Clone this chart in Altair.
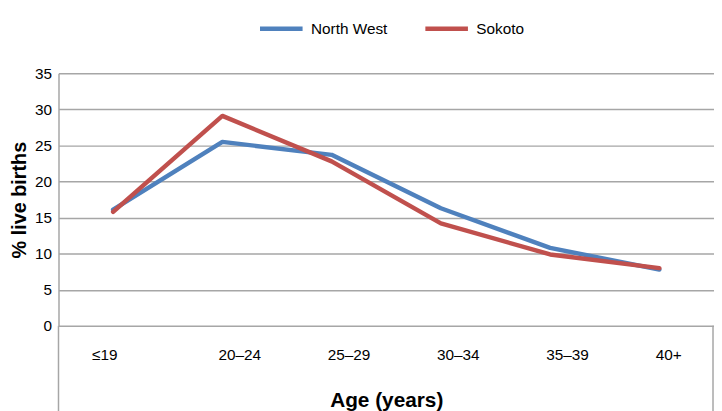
import altair as alt
import pandas as pd

ages = ["≤19", "20–24", "25–29", "30–34", "35–39", "40+"]
north_west = [16.1, 25.5, 23.7, 16.3, 10.8, 7.8]
sokoto = [15.8, 29.1, 22.8, 14.2, 9.9, 8.0]
series = ["North West", "Sokoto"]
colors = ["#4F81BD", "#C0504D"]

rows = []
for name, vals in zip(series, [north_west, sokoto]):
    for a, v in zip(ages, vals):
        rows.append({"age": a, "value": v, "series": name})
df = pd.DataFrame(rows)

W, H = 662, 255
FONT = "Liberation Sans"
GRID = "#A6A6A6"

label_offset = {
    "condition": [
        {"test": "datum.value === '≤19'", "value": -9},
        {"test": "datum.value === '40+'", "value": 9},
    ],
    "value": 17,
}

lines = alt.Chart(df).mark_line(strokeWidth=4.5, strokeJoin="round", strokeCap="round").encode(
    x=alt.X("age:N", sort=ages, scale=alt.Scale(type="point", padding=0.5),
            axis=alt.Axis(title="Age (years)", grid=False, ticks=False, domain=False,
                          labelAngle=0, labelFontSize=15.5, labelFont=FONT, labelColor="#000",
                          labelPadding=22, labelOffset=label_offset,
                          titleFont=FONT, titleFontSize=21, titleFontWeight="bold",
                          titleColor="#000", titlePadding=27)),
    y=alt.Y("value:Q", scale=alt.Scale(domain=[0, 35]),
            axis=alt.Axis(title="% live births", values=[0, 5, 10, 15, 20, 25, 30, 35],
                          grid=True, gridColor=GRID, gridWidth=1.5,
                          domain=True, domainColor=GRID, domainWidth=1.5,
                          ticks=False, labelFontSize=15.5, labelFont=FONT, labelColor="#000",
                          labelPadding=7, titleFont=FONT, titleFontSize=20,
                          titleFontWeight="bold", titleColor="#000", titlePadding=5)),
    color=alt.Color("series:N", scale=alt.Scale(domain=series, range=colors),
                    legend=alt.Legend(title=None, orient="none", direction="horizontal",
                                      legendX=201, legendY=-69, symbolType="stroke",
                                      symbolSize=1849, symbolStrokeWidth=4.5,
                                      labelFontSize=15.5, labelFont=FONT, labelColor="#000",
                                      labelOffset=6, columnPadding=28)),
)

left_rule = alt.Chart(pd.DataFrame({"k": [0]})).mark_rule(color=GRID, strokeWidth=1.5).encode(
    x=alt.value(0), y=alt.value(H), y2=alt.value(H + 90),
)
right_rule = alt.Chart(pd.DataFrame({"k": [0]})).mark_rule(color=GRID, strokeWidth=1.5).encode(
    x=alt.value(W - 1), y=alt.value(H), y2=alt.value(H + 90),
)

chart = alt.layer(lines, left_rule, right_rule).properties(
    width=W, height=H, autosize="none",
    padding={"left": 51, "top": 64, "right": 0, "bottom": 84},
).configure_view(stroke=None)

chart.save("out.html", embed_options={"renderer": "svg", "actions": False})
